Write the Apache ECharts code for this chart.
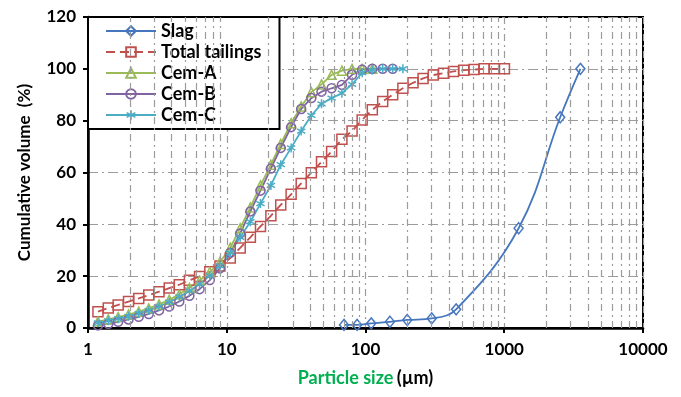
<!DOCTYPE html>
<html>
<head>
<meta charset="utf-8">
<script src="https://cdn.jsdelivr.net/npm/echarts@6/dist/echarts.min.js"></script>
<style>
  html, body { margin: 0; padding: 0; background: #fff; }
  #chart { width: 681px; height: 397px; }
</style>
</head>
<body>
<div id="chart"></div>
<script>
// particle size (µm) and cumulative volume (%)
const slagSize = [70, 87, 110, 150, 200, 300, 450, 1270, 2530, 3540];
const slagVol = [1.2, 1.2, 1.8, 2.4, 3.1, 3.7, 7.2, 38.5, 81.3, 100];

const tailSize = [1.18, 1.40, 1.65, 1.96, 2.32, 2.74, 3.25, 3.85, 4.55, 5.38, 6.37, 7.55, 8.93,
  10.6, 12.5, 14.8, 17.5, 20.8, 24.5, 29.1, 34.4, 40.7, 48.2, 57.0, 67.6, 80.0, 94.6,
  112, 133, 157, 186, 220, 260, 308, 365, 431, 511, 605, 716, 848, 1003];
const tailVol = [6.3, 7.7, 8.9, 10.2, 11.4, 12.7, 14.0, 15.4, 16.7, 18.4, 19.9, 21.7, 23.9,
  27.0, 30.9, 35.0, 39.2, 43.3, 47.5, 51.6, 55.8, 59.9, 64.1, 68.1, 72.8, 76.0, 80.3,
  84.2, 87.4, 90.0, 92.5, 94.6, 96.3, 97.6, 98.3, 99.0, 99.5, 99.7, 100, 100, 100];

// cements share the same size classes as the tailings (first N of them)
const cemAVol = [2.5, 3.3, 4.2, 5.2, 6.3, 7.6, 9.1, 10.9, 13.0, 15.5, 18.3, 21.6, 25.5,
  31.0, 38.5, 46.5, 55.0, 63.0, 71.0, 79.0, 85.5, 91.0, 94.0, 97.7, 99.3, 100, 100, 100];
const cemBVol = [1.0, 1.6, 2.4, 3.3, 4.3, 5.4, 6.8, 8.3, 10.2, 12.4, 15.0, 18.5, 23.0,
  29.0, 36.5, 45.0, 53.0, 61.5, 69.5, 77.5, 84.5, 88.7, 91.2, 92.5, 93.8, 97.7, 99.7, 100, 100, 100];
const cemCVol = [2.0, 2.8, 3.6, 4.5, 5.6, 6.8, 8.3, 10.0, 12.0, 14.3, 17.0, 20.2, 24.0,
  29.0, 35.0, 41.0, 48.0, 55.0, 63.0, 69.5, 76.0, 82.0, 86.5, 88.7, 90.6, 94.0, 98.5, 99.5, 100, 100, 100];

const xTicks = [1, 10, 100, 1000, 10000];
const seriesNames = ['Slag', 'Total tailings', 'Cem-A', 'Cem-B', 'Cem-C'];

const FONT = 'Lato, "Open Sans", sans-serif';
const gridLine = { color: '#9c9c9c', width: 1.2, type: [7, 4, 2, 4] };

// minor vertical grid at 2..9 of each decade
const minorX = [];
for (let d = 1; d < 10000; d *= 10) {
  for (let k = 2; k <= 9; k++) minorX.push(k * d);
}

const pairs = (xs, ys) => ys.map((y, i) => [xs[i], y]);

const asterisk = 'path://M4.2 0L5.8 0L5.8 10L4.2 10ZM1.07 1.81L9.73 6.81L8.93 8.19L0.27 3.19ZM9.73 3.19L1.07 8.19L0.27 6.81L8.93 1.81Z';

function lineSeries(name, data, color, symbol, size, extra) {
  return Object.assign({
    name: name,
    type: 'line',
    data: data,
    symbol: symbol,
    symbolSize: size,
    showAllSymbol: true,
    lineStyle: { color: color, width: 1.8 },
    itemStyle: { color: 'rgba(255,255,255,0)', borderColor: color, borderWidth: 1.5 },
    z: 3
  }, extra || {});
}

const chart = echarts.init(document.getElementById('chart'));
chart.setOption({
  animation: false,
  backgroundColor: '#fff',
  grid: {
    left: 88, right: 38, top: 17, bottom: 69,
    show: true, borderColor: '#000', borderWidth: 2
  },
  legend: {
    data: seriesNames,
    orient: 'vertical',
    left: 88, top: 17,
    backgroundColor: '#fff',
    borderColor: '#000', borderWidth: 2,
    padding: [5, 18, 5, 17],
    itemWidth: 50, itemHeight: 12, itemGap: 3,
    textStyle: { color: '#000', fontWeight: 'bold', fontSize: 18, lineHeight: 18, fontFamily: FONT }
  },
  xAxis: {
    type: 'log', logBase: 10, min: 1, max: 10000,
    name: '{g|Particle size} {k|(µm)}',
    nameLocation: 'middle', nameGap: 41,
    nameTextStyle: {
      rich: {
        g: { color: '#00b050', fontWeight: 'bold', fontSize: 18, fontFamily: FONT },
        k: { color: '#000', fontWeight: 'bold', fontSize: 18, fontFamily: FONT }
      }
    },
    axisLine: { lineStyle: { color: '#000', width: 2.5 } },
    axisTick: { show: true, length: 5, lineStyle: { color: '#000', width: 2 } },
    axisLabel: {
      color: '#000', fontWeight: 'bold', fontSize: 17, fontFamily: FONT, margin: 13,
      formatter: v => (xTicks.indexOf(Math.round(v)) >= 0 ? String(Math.round(v)) : '')
    },
    splitLine: { show: true, lineStyle: gridLine }
  },
  yAxis: {
    type: 'value', min: 0, max: 120, interval: 20,
    name: 'Cumulative volume  (%)',
    nameLocation: 'middle', nameGap: 55,
    nameTextStyle: { color: '#000', fontWeight: 'bold', fontSize: 17, fontFamily: FONT },
    axisLine: { show: true, onZero: false, lineStyle: { color: '#000', width: 2.5 } },
    axisTick: { show: true, length: 5, lineStyle: { color: '#000', width: 2 } },
    axisLabel: { color: '#000', fontWeight: 'bold', fontSize: 17, fontFamily: FONT, margin: 12 },
    splitLine: { show: true, lineStyle: { color: '#9c9c9c', width: 1.2, type: [10, 4, 2, 4] } }
  },
  series: [
    {
      name: 'minor-grid', type: 'line', data: [], silent: true, z: 1,
      markLine: {
        silent: true, symbol: 'none', label: { show: false },
        lineStyle: gridLine,
        data: minorX.map(v => ({ xAxis: v }))
      }
    },
    lineSeries('Slag', pairs(slagSize, slagVol), '#4677be', 'diamond', [9, 11], { smooth: 0.4 }),
    lineSeries('Total tailings', pairs(tailSize, tailVol), '#c0504d', 'rect', 10, {
      lineStyle: { color: '#c0504d', width: 1.8, type: [9, 5] }
    }),
    lineSeries('Cem-A', pairs(tailSize, cemAVol), '#9bbb59', 'triangle', 9),
    lineSeries('Cem-B', pairs(tailSize, cemBVol), '#8064a2', 'circle', 9),
    lineSeries('Cem-C', pairs(tailSize, cemCVol), '#4bacc6', asterisk, 9, {
      itemStyle: { color: '#4bacc6', borderWidth: 0 }
    })
  ]
});
</script>
</body>
</html>
